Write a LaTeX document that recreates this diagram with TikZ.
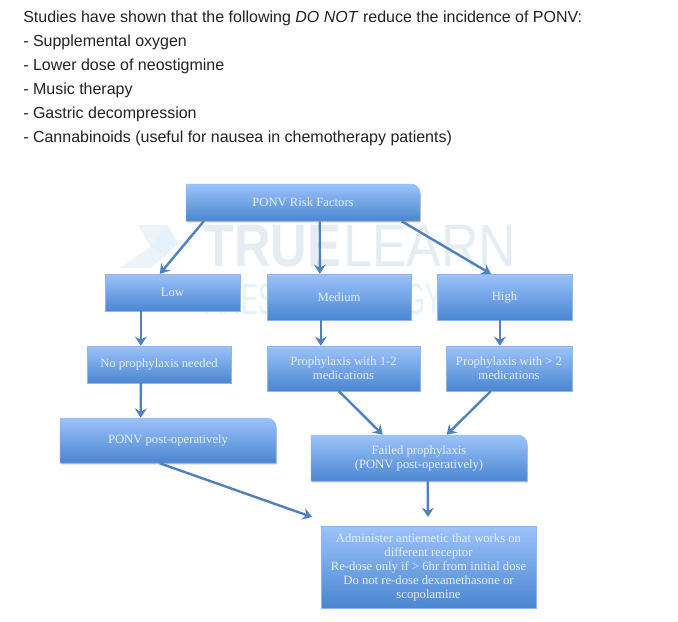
\documentclass[tikz,border=0pt]{standalone}
\usepackage{fontspec}
\setmainfont{Liberation Sans}
\newfontfamily\boxfont{Liberation Serif}
\usetikzlibrary{arrows.meta,calc,shadows}
\definecolor{lineblue}{HTML}{4F81BD}
\definecolor{boxtop}{HTML}{9CC3FC}
\definecolor{boxbot}{HTML}{4A86D0}
\definecolor{boxedge}{HTML}{8FB6EC}
\definecolor{boxtext}{HTML}{E6EEF9}
\definecolor{headtext}{HTML}{222222}
\definecolor{wm}{HTML}{E6EDF2}
\definecolor{wmlight}{HTML}{EDF4F9}
\definecolor{wmblue}{HTML}{E3F2FB}
\tikzset{
  x=0.75pt,y=-0.75pt,
  wh/.style 2 args={minimum width=#1*0.75pt,minimum height=#2*0.75pt},
  pshade/.style={top color=boxtop,bottom color=boxbot,draw=boxedge,line width=0.25pt,
    drop shadow={shadow xshift=0.6pt,shadow yshift=-1.1pt,opacity=0.4,fill=black!60}},
  plainbox/.style={inner sep=0pt,align=center,text=boxtext,font=\boxfont\fontsize{9.5}{10.5}\selectfont},
  box/.style={pshade,plainbox},
  link/.style={draw=lineblue,line width=1.8pt,-{Stealth[length=7pt,width=9pt,inset=2.5pt]}},
  head/.style={anchor=west,inner sep=0pt,text=headtext,font=\fontsize{12}{14}\selectfont},
  mark text/.style={inner sep=0pt,anchor=west},
}
\begin{document}
\begin{tikzpicture}
\useasboundingbox (0,0) rectangle (678,621);
\fill[white] (0,0) rectangle (678,621);
% heading
\node[head] (h1) at (23,18.5) {Studies have shown that the following \textit{DO NOT} reduce the incidence of PONV:};
\node[head] (h2) at (23,42.5) {- Supplemental oxygen};
\node[head] (h3) at (23,66.5) {- Lower dose of neostigmine};
\node[head] (h4) at (23,90.5) {- Music therapy};
\node[head] (h5) at (23,114.5) {- Gastric decompression};
\node[head] (h6) at (23,138.5) {- Cannabinoids (useful for nausea in chemotherapy patients)};
% watermark
\fill[wmlight] (138,225) -- (167,225) -- (150,246) -- cycle;
\fill[wmlight] (120,268) -- (152,246) -- (165,256) -- (150,268) -- cycle;
\fill[wmblue] (167,225) -- (178,243) -- (165,256) -- (150,246) -- cycle;
\node[mark text,text=wm,font=\bfseries\fontsize{45}{46}\selectfont] (wm1) at (203,246) {\scalebox{0.845}[1]{TRUE}};
\node[mark text,text=wm,font=\fontsize{45}{46}\selectfont] (wm2) at (343,246) {\scalebox{0.865}[1]{LEARN}};
\node[mark text,text=wmblue,font=\fontsize{33}{34}\selectfont] (wm3) at (205,299) {\scalebox{0.585}[1]{ANESTHESIOLOGY}};
% rounded-corner box outlines
\path[pshade] (186,221) -- (186,184) -- (411,184) .. controls (416,184) and (420,188) .. (420,193) -- (420,221) -- cycle;
\path[pshade] (60,463) -- (60,418) -- (267,418) .. controls (272,418) and (276,422) .. (276,427) -- (276,463) -- cycle;
\path[pshade] (311,481) -- (311,435) -- (518,435) .. controls (523,435) and (527,439) .. (527,444) -- (527,481) -- cycle;
% boxes
\node[plainbox,wh={234}{37}] (risk) at (303,202.5) {PONV Risk Factors};
\node[box,wh={135}{37}] (low) at (172.5,292.5) {Low};
\node[box,wh={144}{46}] (med) at (339,297) {Medium};
\node[box,wh={135}{46}] (high) at (504.5,297) {High};
\node[box,wh={144}{37}] (none) at (159,364.5) {No prophylaxis needed};
\node[box,wh={153}{45}] (p12) at (343.5,368.5) {Prophylaxis with 1-2\\medications};
\node[box,wh={126}{45}] (p2) at (509,368.5) {Prophylaxis with > 2\\medications};
\node[plainbox,wh={216}{45}] (post) at (168,440.5) {PONV post-operatively};
\node[plainbox,wh={216}{46}] (fail) at (419,458) {Failed prophylaxis\\(PONV post-operatively)};
\node[box,wh={215}{82}] (admin) at (428.5,567) {Administer antiemetic that works on\\different receptor\\Re-dose only if > 6hr from initial dose\\Do not re-dose dexamethasone or\\scopolamine};
\coordinate (endA) at (312,517);
\coordinate (endB) at (428,517);
% connectors
\draw[link] ($(risk.south west)+(18,0)$) -- ($(low.north west)+(55,0)$);
\draw[link] ($(risk.south west)+(134,0)$) -- ($(med.north west)+(53,0)$);
\draw[link] ($(risk.south west)+(216,0)$) -- ($(high.north west)+(54,0)$);
\draw[link] ($(low.south west)+(36,0)$) -- ($(none.north west)+(54,0)$);
\draw[link] ($(med.south west)+(54,0)$) -- ($(p12.north west)+(54,0)$);
\draw[link] ($(high.south west)+(63,0)$) -- ($(p2.north west)+(54,0)$);
\draw[link] ($(none.south west)+(54,0)$) -- ($(post.north west)+(81,0)$);
\draw[link] ($(p12.south west)+(72,0)$) -- ($(fail.north west)+(72,0)$);
\draw[link] ($(p2.south west)+(45,0)$) -- ($(fail.north west)+(136,0)$);
\draw[link] ($(post.south west)+(100,0)$) -- (endA);
\draw[link] ($(fail.south west)+(117,0)$) -- (endB);
\end{tikzpicture}
\end{document}
